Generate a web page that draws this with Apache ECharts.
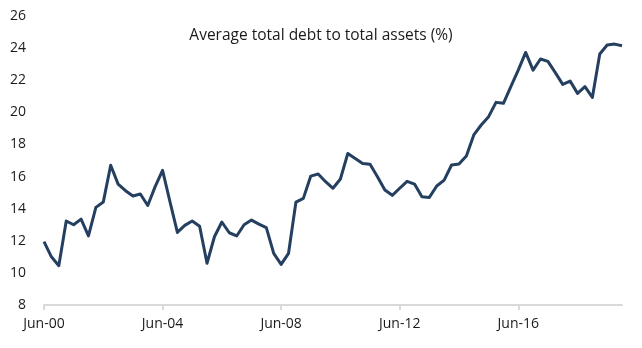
<!DOCTYPE html>
<html>
<head>
<meta charset="utf-8">
<script src="https://cdn.jsdelivr.net/npm/echarts@6/dist/echarts.min.js"></script>
<style>
  html, body { margin: 0; padding: 0; background: #ffffff; }
  #chart { width: 642px; height: 348px; }
</style>
</head>
<body>
<div id="chart"></div>
<script>
// Quarterly periods, Jun-00 through Dec-19
const quarters = [
  'Jun-00','Sep-00','Dec-00','Mar-01','Jun-01','Sep-01','Dec-01','Mar-02',
  'Jun-02','Sep-02','Dec-02','Mar-03','Jun-03','Sep-03','Dec-03','Mar-04',
  'Jun-04','Sep-04','Dec-04','Mar-05','Jun-05','Sep-05','Dec-05','Mar-06',
  'Jun-06','Sep-06','Dec-06','Mar-07','Jun-07','Sep-07','Dec-07','Mar-08',
  'Jun-08','Sep-08','Dec-08','Mar-09','Jun-09','Sep-09','Dec-09','Mar-10',
  'Jun-10','Sep-10','Dec-10','Mar-11','Jun-11','Sep-11','Dec-11','Mar-12',
  'Jun-12','Sep-12','Dec-12','Mar-13','Jun-13','Sep-13','Dec-13','Mar-14',
  'Jun-14','Sep-14','Dec-14','Mar-15','Jun-15','Sep-15','Dec-15','Mar-16',
  'Jun-16','Sep-16','Dec-16','Mar-17','Jun-17','Sep-17','Dec-17','Mar-18',
  'Jun-18','Sep-18','Dec-18','Mar-19','Jun-19','Sep-19','Dec-19'
];

// Average total debt to total assets (%)
const debtToAssets = [
  11.95, 11.0, 10.45, 13.23, 13.0, 13.35, 12.3, 14.08,
  14.41, 16.7, 15.53, 15.12, 14.79, 14.91, 14.2, 15.37,
  16.39, 14.43, 12.52, 12.96, 13.23, 12.9, 10.6, 12.25,
  13.17, 12.5, 12.3, 13.0, 13.29, 13.04, 12.82, 11.22,
  10.53, 11.22, 14.41, 14.64, 16.03, 16.16, 15.68, 15.27,
  15.85, 17.44, 17.13, 16.82, 16.76, 15.99, 15.16, 14.83,
  15.27, 15.7, 15.53, 14.74, 14.7, 15.41, 15.78, 16.72,
  16.78, 17.28, 18.59, 19.21, 19.73, 20.62, 20.56, 21.6,
  22.63, 23.73, 22.63, 23.32, 23.17, 22.47, 21.74, 21.95,
  21.18, 21.6, 20.93, 23.63, 24.19, 24.25, 24.15
];

// Labelled quarters on the horizontal axis
const tickLabels = ['Jun-00', 'Jun-04', 'Jun-08', 'Jun-12', 'Jun-16'];

const chartTitle = 'Average total debt to total assets (%)';

const fontFamily = '"Open Sans", "Noto Sans", sans-serif';
const chart = echarts.init(document.getElementById('chart'), null, { renderer: 'canvas' });

const showTick = (idx, value) => tickLabels.indexOf(value) !== -1;

chart.setOption({
  animation: false,
  backgroundColor: '#ffffff',
  title: {
    text: chartTitle,
    left: 'center',
    top: 23,
    textStyle: { fontFamily, fontSize: 15.5, fontWeight: 'normal', color: '#1a1a1a' }
  },
  grid: { left: 44, right: 20, top: 16, bottom: 43 },
  xAxis: {
    type: 'category',
    data: quarters,
    boundaryGap: false,
    axisLine: { show: true, lineStyle: { color: '#d9d9d9', width: 2 } },
    axisTick: { show: true, interval: showTick, length: 5, lineStyle: { color: '#d9d9d9', width: 2 } },
    axisLabel: { interval: showTick, margin: 12, fontFamily, fontSize: 14, color: '#1a1a1a' },
    splitLine: { show: false }
  },
  yAxis: {
    type: 'value',
    min: 8,
    max: 26,
    interval: 2,
    axisLine: { show: false },
    axisTick: { show: false },
    axisLabel: { margin: 18, fontFamily, fontSize: 14, color: '#1a1a1a' },
    splitLine: { show: false }
  },
  series: [{
    type: 'line',
    data: debtToAssets,
    symbol: 'none',
    lineStyle: { color: '#243f60', width: 3, join: 'round' },
    itemStyle: { color: '#243f60' }
  }]
});
</script>
</body>
</html>
